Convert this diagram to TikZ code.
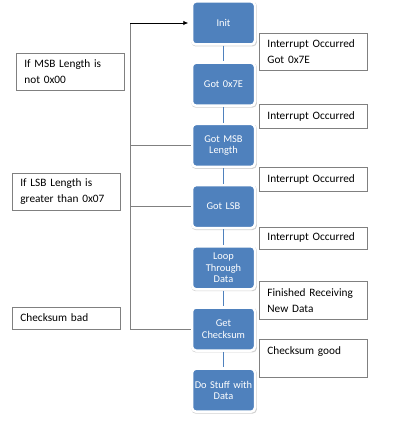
\documentclass[tikz,border=0pt]{standalone}
\usepackage{fontspec}
\usepackage{tikz}
\usetikzlibrary{arrows.meta,shadows}
\newfontfamily\calibri{Carlito}
\definecolor{stateblue}{HTML}{4F81BD}
\definecolor{notegray}{HTML}{808080}

\begin{document}
\begin{tikzpicture}[x=1pt,y=-1pt,
	state/.style={rectangle,rounded corners=4pt,fill=stateblue,draw=white,line width=2.5pt,minimum width=63pt,minimum height=43pt,text width=60pt,inner sep=0pt,align=center,text=white,font=\calibri\fontsize{10.4}{11.5}\selectfont,general shadow={fill=black,opacity=0.18,shadow xshift=0.6pt,shadow yshift=-1pt,shadow scale=1.04}},
	note/.style={rectangle,draw=notegray,line width=0.8pt,anchor=north west,minimum width=108pt,text width=92pt,inner xsep=8pt,inner ysep=5pt,align=left,font=\calibri\fontsize{11.3}{16}\selectfont},
	link/.style={stateblue,line width=1.6pt},
	back/.style={notegray,line width=0.8pt}]
				\useasboundingbox (0,0) rectangle (400,430);
				\node[state] (init) at (223.5,23) {Init};
				\node[state] (got7e) at (223.5,84.2) {Got 0x7E};
				\node[state] (msb) at (223.5,145.4) {Got MSB\\Length};
				\node[state] (lsb) at (223.5,206.6) {Got LSB};
				\node[state] (loop) at (223.5,267.8) {Loop\\Through\\Data};
				\node[state] (chk) at (223.5,329) {Get\\Checksum};
				\node[state] (stuff) at (223.5,390.2) {Do Stuff with\\Data};
				\draw[link] (init) -- (got7e);
				\draw[link] (got7e) -- (msb);
				\draw[link] (msb) -- (lsb);
				\draw[link] (lsb) -- (loop);
				\draw[link] (loop) -- (chk);
				\draw[link] (chk) -- (stuff);
				\node[note,minimum height=37pt] (occ1) at (259,33) {Interrupt Occurred\\Got 0x7E};
				\node[note,minimum height=24pt] (occ2) at (259,104) {Interrupt Occurred};
				\node[note,minimum height=23pt] (occ3) at (259,167.5) {Interrupt Occurred};
				\node[note,minimum height=22pt] (occ4) at (259,226.5) {Interrupt Occurred};
				\node[note,minimum height=38pt] (done) at (259,281) {Finished Receiving\\New Data};
				\node[note,minimum height=38pt] (good) at (259,339) {Checksum good\\~};
				\node[note,minimum height=37pt] (notzero) at (16,53) {If MSB Length is\\not 0x00};
				\node[note,minimum height=37pt] (toolong) at (12,173) {If LSB Length is\\greater than 0x07};
				\node[note,minimum height=22pt] (bad) at (12,306.5) {Checksum bad};
				\coordinate (bustop) at (130,23);
				\coordinate (busbot) at (130,329);
				\draw[back] (chk.west) -- (busbot) -- (bustop);
				\draw[back] (msb.west) -- (msb.west -| bustop);
				\draw[back] (lsb.west) -- (lsb.west -| bustop);
				\draw[-{Latex[length=5pt,width=4.5pt]},line width=0.8pt,shorten >=2.5pt] (bustop) -- (init.west);
			\end{tikzpicture}
\end{document}
